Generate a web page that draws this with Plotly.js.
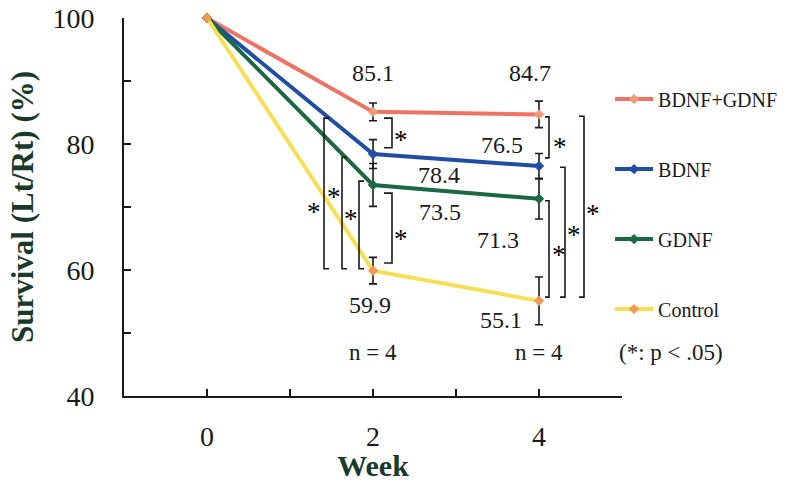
<!DOCTYPE html>
<html>
<head>
<meta charset="utf-8">
<script src="https://cdn.plot.ly/plotly-3.0.1.min.js"></script>
<style>
  html, body { margin: 0; padding: 0; background: #ffffff; }
  #chart { width: 790px; height: 482px; }
</style>
</head>
<body>
<div id="chart"></div>
<script>
// ---------------- DATA ----------------
const weeks = [0, 2, 4];
const seriesNames = ['BDNF+GDNF', 'BDNF', 'GDNF', 'Control'];
const bdnfGdnf = [100, 85.1, 84.7];
const bdnf = [100, 78.4, 76.5];
const gdnf = [100, 73.5, 71.3];
const control = [100, 59.9, 55.1];
const bdnfGdnfErr = [NaN, 1.4, 2.1];
const bdnfErr = [NaN, 2.3, 2.0];
const gdnfErr = [NaN, 3.4, 3.2];
const controlErr = [NaN, 2.1, 3.8];
const xTickVals = [0, 1, 2, 3, 4, 5];
const xTickText = ['0', '', '2', '', '4', ''];
const yTickVals = [40, 50, 60, 70, 80, 90, 100];
const yTickText = ['40', '', '60', '', '80', '', '100'];
const sampleSizeWeeks = [2, 4];
const sampleSizeText = ['n = 4', 'n = 4'];
// significance comparisons: week, upper series index, lower series index
const sigWeek = [2, 2, 2, 2, 2, 4, 4, 4, 4];
const sigUpper = [0, 1, 2, 0, 2, 0, 2, 1, 0];
const sigLower = [3, 3, 3, 1, 3, 1, 3, 3, 3];
const sigLabel = '*';
const noteText = '(*: p < .05)';

// ---------------- STYLE ----------------
const values = [bdnfGdnf, bdnf, gdnf, control];
const errors = [bdnfGdnfErr, bdnfErr, gdnfErr, controlErr];
const lineColors = ['#ee7363', '#1f4ea2', '#1c6845', '#f6df55'];
const markerColors = ['#f59a76', '#1f4ea2', '#1c6845', '#f39a52'];
// value label offsets (px) relative to each point at weeks 2 and 4
const labelShift = [
  [[0, 39], [-9, 41]],
  [[66, -21], [-37, 21]],
  [[67, -27], [-41, -41]],
  [[-3, -34], [-38, -19]]
];
// bracket styles: [line x offset, arm x offset, star x offset, top inset, bottom inset, star y shift]
const bracketStyle = [
  [-49, -44, -59, 1.0, 0.3, -12],
  [-31, -26, -39, 0.5, 0.3, 23],
  [-14, -9, -22, -0.6, 0.3, 13],
  [19, 11, 28, 1.0, 1.0, 0],
  [19, 11, 28, 1.3, 1.2, -4],
  [10, 6, 21, 0.4, 1.3, -3],
  [10, 6, 20, 0.3, 0.6, 1],
  [26, 21, 35, 0.2, 0.6, 4],
  [45, 40, 54, 0.3, 0.6, 0]
];

const serif = '"Liberation Serif", "Times New Roman", Times, serif';

const traces = seriesNames.map((name, i) => ({
  type: 'scatter',
  mode: 'lines+markers',
  name: name,
  legendgroup: 'g' + i,
  x: weeks,
  y: values[i],
  line: { color: lineColors[i], width: 4 },
  marker: { symbol: 'diamond', size: 8, color: markerColors[i] },
  error_y: {
    type: 'data',
    array: errors[i],
    visible: true,
    color: '#1a1a1a',
    thickness: 1.6,
    width: 4
  },
  cliponaxis: false
}));

const annotations = [];
// value labels
values.forEach((vals, i) => {
  [1, 2].forEach((k, j) => {
    annotations.push({
      x: weeks[k], y: vals[k], xref: 'x', yref: 'y',
      text: vals[k].toFixed(1),
      showarrow: false,
      xshift: labelShift[i][j][0], yshift: labelShift[i][j][1],
      font: { family: serif, size: 24, color: '#1a1a1a' }
    });
  });
});
// n = 4 labels
sampleSizeWeeks.forEach((w, i) => {
  annotations.push({
    x: w, y: 0.114, xref: 'x', yref: 'paper', xanchor: 'center', yanchor: 'middle',
    text: sampleSizeText[i], showarrow: false,
    font: { family: serif, size: 23, color: '#1a1a1a' }
  });
});
annotations.push({
  x: 0.99, y: 0.114, xref: 'paper', yref: 'paper', xanchor: 'left', yanchor: 'middle',
  text: noteText, showarrow: false,
  font: { family: serif, size: 23, color: '#1a1a1a' }
});

const shapes = [];
sigWeek.forEach((w, b) => {
  const k = weeks.indexOf(w);
  const st = bracketStyle[b];
  const top = values[sigUpper[b]][k] - st[3];
  const bot = values[sigLower[b]][k] + st[4];
  shapes.push({
    type: 'path',
    xref: 'x', yref: 'y',
    xsizemode: 'pixel', xanchor: w,
    path: `M${st[1]},${top} L${st[0]},${top} L${st[0]},${bot} L${st[1]},${bot}`,
    line: { color: '#1a1a1a', width: 1.6 }
  });
  annotations.push({
    x: w, y: (top + bot) / 2, xref: 'x', yref: 'y',
    text: sigLabel, showarrow: false,
    xshift: st[2], yshift: st[5] - 7,
    font: { family: serif, size: 27, color: '#000000' }
  });
});

const layout = {
  width: 790, height: 482,
  margin: { l: 124, r: 168, t: 18, b: 86, autoexpand: false },
  paper_bgcolor: '#ffffff',
  plot_bgcolor: '#ffffff',
  font: { family: serif, color: '#1a1a1a' },
  showlegend: true,
  legend: {
    x: 0.976, xanchor: 'left',
    y: 0.837, yanchor: 'top',
    font: { family: serif, size: 20, color: '#1a1a1a' },
    tracegroupgap: 41,
    itemwidth: 38,
    bgcolor: 'rgba(0,0,0,0)',
    itemclick: false
  },
  xaxis: {
    range: [-1, 5],
    tickvals: xTickVals, ticktext: xTickText,
    ticks: 'inside', ticklen: 7, tickwidth: 2, tickcolor: '#1a1a1a',
    showline: true, linecolor: '#1a1a1a', linewidth: 2,
    showgrid: false, zeroline: false,
    tickfont: { family: serif, size: 28, color: '#1a1a1a' },
    ticklabelstandoff: 14,
    title: { text: '<b>Week</b>', font: { family: serif, size: 30, color: '#173a2a' }, standoff: 8 }
  },
  yaxis: {
    range: [40, 100],
    tickvals: yTickVals, ticktext: yTickText,
    ticks: 'inside', ticklen: 7, tickwidth: 2, tickcolor: '#1a1a1a',
    showline: true, linecolor: '#1a1a1a', linewidth: 2,
    showgrid: false, zeroline: false,
    tickfont: { family: serif, size: 28, color: '#1a1a1a' },
    ticklabelstandoff: 22,
    title: { text: '<b>Survival (Lt/Rt) (%)</b>', font: { family: serif, size: 31, color: '#173a2a' }, standoff: 10 }
  },
  annotations: annotations,
  shapes: shapes
};

Plotly.newPlot('chart', traces, layout, { staticPlot: true, displayModeBar: false });
</script>
</body>
</html>
